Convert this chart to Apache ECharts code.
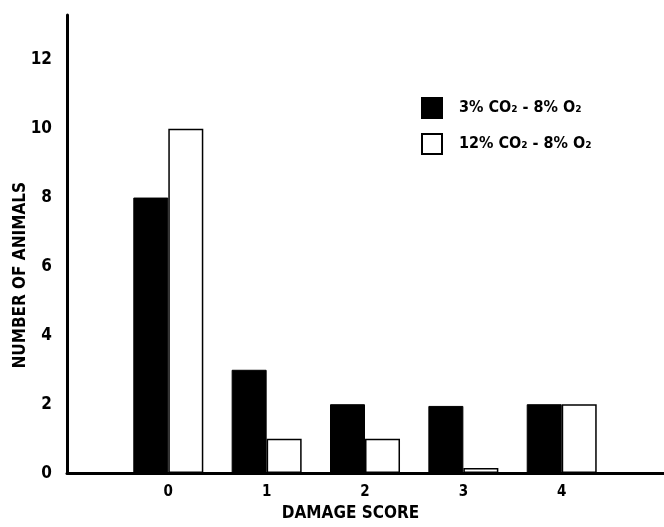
<!DOCTYPE html>
<html><head><meta charset="utf-8">
<script src="https://cdn.jsdelivr.net/npm/echarts@6/dist/echarts.min.js"></script>
<style>html,body{margin:0;padding:0;background:#fff}#c{width:664px;height:527px}</style>
</head><body><div id="c"></div>
<script>
const categories = [0, 1, 2, 3, 4];
const series3CO2 = [8, 3, 2, 1.95, 2];
const series12CO2 = [10, 1, 1, 0.15, 2];
const yTicks = [0, 2, 4, 6, 8, 10, 12];
const seriesNames = ['3% CO\u2082 - 8% O\u2082', '12% CO\u2082 - 8% O\u2082'];

const FONT = '"Liberation Sans Narrow", "DejaVu Sans Condensed", "Liberation Sans", sans-serif';
const chart = echarts.init(document.getElementById('c'), null, {renderer: 'canvas'});
chart.setOption({
  backgroundColor: '#fff',
  animation: false,
  grid: {left: 67, right: 0, top: 15, bottom: 44, containLabel: false},
  legend: {
    data: seriesNames,
    orient: 'vertical',
    left: 421, top: 97, padding: 0,
    itemWidth: 20, itemHeight: 20, itemGap: 14,
    icon: 'rect',
    textStyle: {fontFamily: FONT, fontWeight: 'bold', fontSize: 16, color: '#000', padding: [0,0,0,12]}
  },
  xAxis: {
    type: 'value', min: -1.03, max: 5.04,
    splitLine: {show: false},
    axisTick: {show: false},
    axisLine: {show: true, onZero: false, lineStyle: {color: '#000', width: 3}},
    axisLabel: {
      customValues: categories,
      fontFamily: FONT, fontWeight: 'bold', fontSize: 15, color: '#000', margin: 12,
      formatter: v => String(v)
    },
    name: 'DAMAGE SCORE', nameLocation: 'middle', nameGap: 25,
    nameTextStyle: {fontFamily: FONT, fontWeight: 'bold', fontSize: 17, color: '#000', padding: [0, 30, 0, 0]}
  },
  yAxis: {
    type: 'value', min: 0, max: 13.3, interval: 2,
    splitLine: {show: false},
    axisTick: {show: false},
    axisLine: {show: true, onZero: false, lineStyle: {color: '#000', width: 3}},
    axisLabel: {
      fontFamily: FONT, fontWeight: 'bold', fontSize: 17, color: '#000', margin: 15,
      formatter: v => yTicks.indexOf(v) >= 0 ? String(v) : ''
    }
  },
  graphic: [{
    type: 'text', left: 12, top: 182, rotation: Math.PI / 2,
    style: {text: 'NUMBER OF ANIMALS', font: 'bold 17px ' + FONT, fill: '#000'}
  }],
  series: [
    {
      name: seriesNames[0], type: 'bar', barWidth: 35, barGap: '0%',
      itemStyle: {color: '#000', borderColor: '#000', borderWidth: 1},
      data: categories.map((c, i) => [c, series3CO2[i]])
    },
    {
      name: seriesNames[1], type: 'bar', barWidth: 35, barGap: '0%',
      itemStyle: {color: '#fff', borderColor: '#000', borderWidth: 1.5},
      data: categories.map((c, i) => [c, series12CO2[i]])
    }
  ]
});
</script></body></html>
